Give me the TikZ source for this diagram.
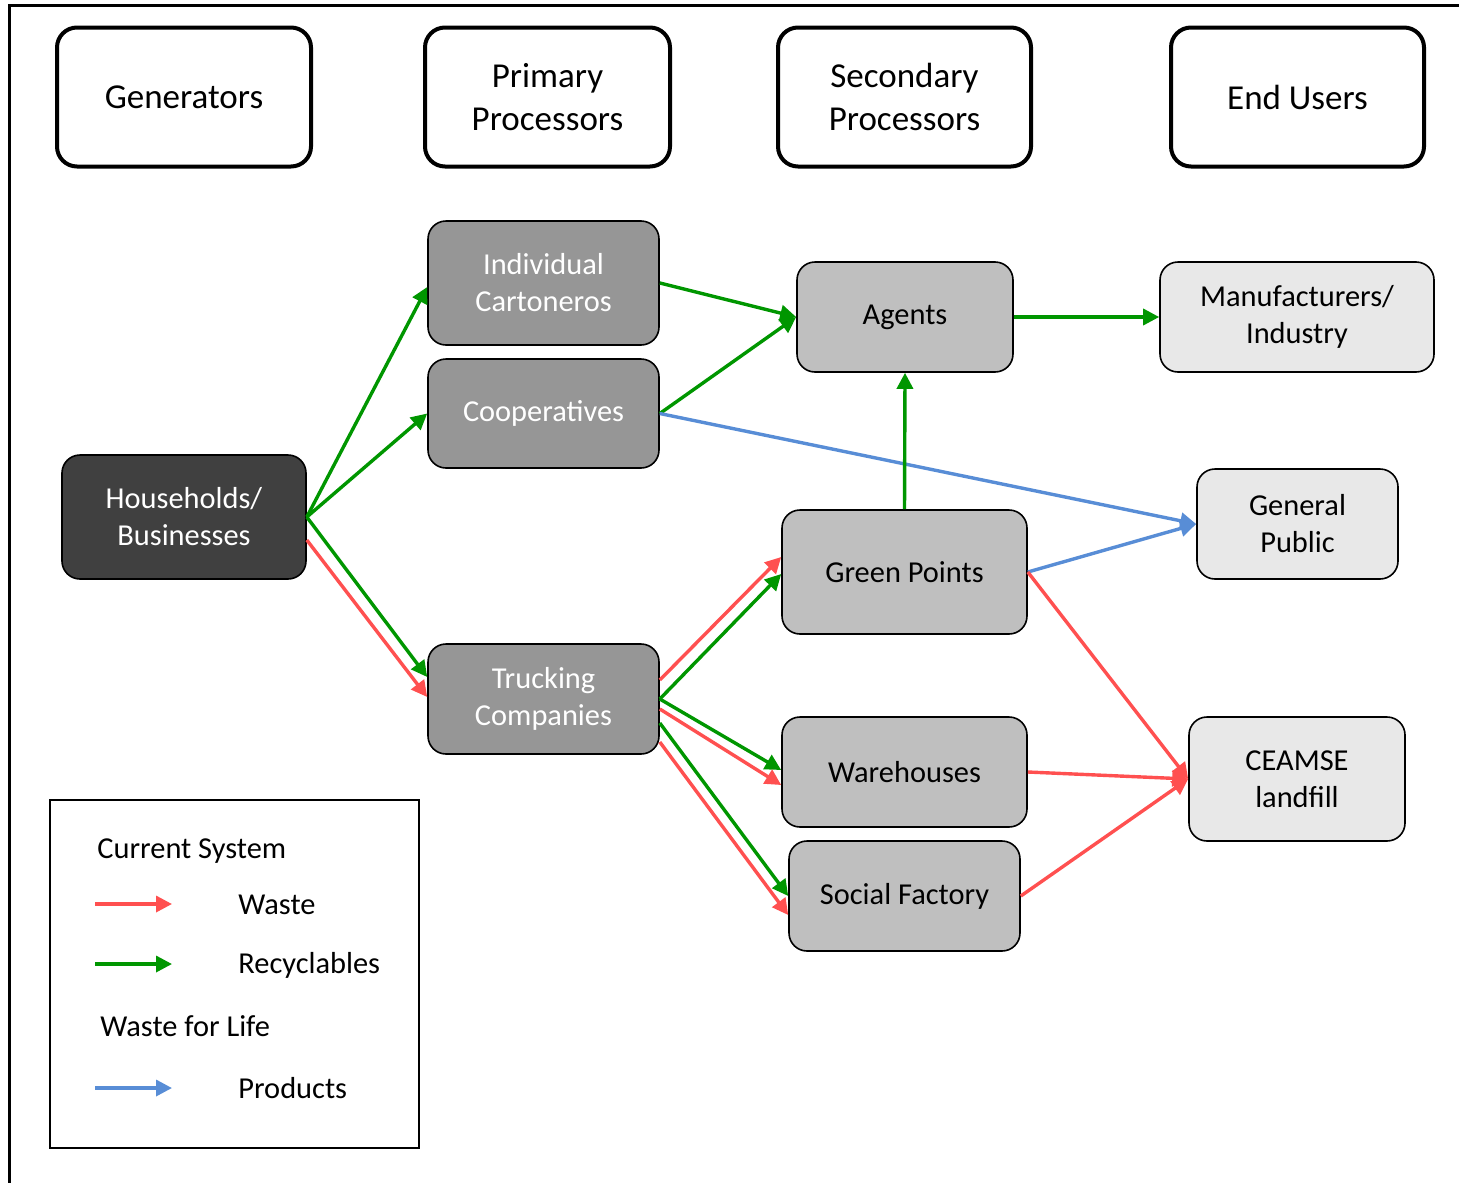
\documentclass[tikz,border=0pt]{standalone}
\usepackage{fontspec}
\setmainfont{Carlito}
\usetikzlibrary{arrows.meta}

\definecolor{wastered}{RGB}{255,80,80}
\definecolor{recgreen}{RGB}{0,150,0}
\definecolor{prodblue}{RGB}{88,141,214}
\definecolor{darkbox}{RGB}{64,64,64}
\definecolor{midbox}{RGB}{150,150,150}
\definecolor{lightbox}{RGB}{191,191,191}
\definecolor{paleBox}{RGB}{232,232,232}

\begin{document}
\begin{tikzpicture}[x=0.5pt, y=-0.5pt,
  header/.style={draw=black, line width=2pt, fill=white, rounded corners=10pt,
    align=center, inner sep=0pt, font={\fontsize{17.5}{21.5}\selectfont}},
  actor/.style={draw=black, line width=0.8pt, rounded corners=9pt, align=center,
    inner sep=0pt, font={\fontsize{15.2}{18.5}\selectfont}},
  flow/.style={line width=1.7pt, -{Triangle[length=8pt, width=8pt]}},
  waste/.style={flow, draw=wastered, fill=wastered},
  recyc/.style={flow, draw=recgreen, fill=recgreen},
  prod/.style={flow, draw=prodblue, fill=prodblue}]

\useasboundingbox (0,0) rectangle (1459,1183);

% frame
\draw[line width=1.5pt] (1459,5) -- (9,5) -- (9,1183);

% column headings
\node [header, minimum width=127pt, minimum height=69.5pt] (gen) at (184,97) {Generators};
\node [header, minimum width=122.5pt, minimum height=69.5pt] (prim) at (547.5,97) {Primary\\Processors};
\node [header, minimum width=126.5pt, minimum height=69.5pt] (sec) at (904.5,97) {Secondary\\Processors};
\node [header, minimum width=126.5pt, minimum height=69.5pt] (endu) at (1297.5,97) {End Users};

% actors
\node [actor, fill=darkbox, text=white, minimum width=122pt, minimum height=62pt] (house) at (184,517) {Households/\\Businesses};
\node [actor, fill=midbox, text=white, minimum width=115.5pt, minimum height=62pt] (indiv) at (543.5,283) {Individual\\Cartoneros};
\node [actor, fill=midbox, text=white, minimum width=115.5pt, minimum height=54.5pt] (coop) at (543.5,413.5) {Cooperatives};
\node [actor, fill=midbox, text=white, minimum width=115.5pt, minimum height=55pt] (truck) at (543.5,699) {Trucking\\Companies};
\node [actor, fill=lightbox, minimum width=108pt, minimum height=55pt] (agents) at (905,317) {Agents};
\node [actor, fill=lightbox, minimum width=122.5pt, minimum height=62pt] (greenpts) at (904.5,572) {Green Points};
\node [actor, fill=lightbox, minimum width=122.5pt, minimum height=55pt] (ware) at (904.5,772) {Warehouses};
\node [actor, fill=lightbox, minimum width=115.5pt, minimum height=55pt] (social) at (904.5,896) {Social Factory};
\node [actor, fill=paleBox, minimum width=137pt, minimum height=55pt] (manu) at (1297,317) {Manufacturers/\\Industry};
\node [actor, fill=paleBox, minimum width=100.5pt, minimum height=55pt] (public) at (1297.5,524) {General\\Public};
\node [actor, fill=paleBox, minimum width=108pt, minimum height=62pt] (ceamse) at (1297,779) {CEAMSE\\landfill};

% flows out of households
\draw[recyc] (house.east) -- ([yshift=-2pt]indiv.west);
\draw[recyc] (house.east) -- (coop.west);
\draw[recyc] (house.east) -- ([yshift=11pt]truck.west);
\draw[waste] ([yshift=-11.5pt]house.east) -- ([yshift=1pt]truck.west);

% primary to secondary
\draw[recyc] (indiv.east) -- (agents.west);
\draw[recyc] (coop.east) -- (agents.west);
\draw[prod] (coop.east) -- (public.west);
\draw[waste] ([yshift=9.5pt]truck.east) -- ([yshift=7.5pt]greenpts.west);
\draw[recyc] (truck.east) -- ([yshift=-1pt]greenpts.west);
\draw[recyc] (truck.east) -- ([yshift=1pt]ware.west);
\draw[waste] ([yshift=-5pt]truck.east) -- ([yshift=-6.5pt]ware.west);
\draw[recyc] ([yshift=-12pt]truck.east) -- (social.west);
\draw[waste] ([yshift=-21.5pt]truck.east) -- ([yshift=-9.5pt]social.west);

% secondary to end users
\draw[recyc] (greenpts.north) -- (agents.south);
\draw[recyc] (agents.east) -- (manu.west);
\draw[prod] (greenpts.east) -- (public.west);
\draw[waste] (greenpts.east) -- (ceamse.west);
\draw[waste] (ware.east) -- (ceamse.west);
\draw[waste] (social.east) -- (ceamse.west);

% legend
\node [draw=black, line width=0.8pt, minimum width=184.5pt, minimum height=174pt, inner sep=0pt] (legend) at (234.5,974) {};
\node [anchor=west, inner sep=0pt, font={\fontsize{15.2}{18}\selectfont}] (lcur) at (97,851) {Current System};
\node [anchor=west, inner sep=0pt, font={\fontsize{15.2}{18}\selectfont}] (lwaste) at (238,905) {Waste};
\node [anchor=west, inner sep=0pt, font={\fontsize{15.2}{18}\selectfont}] (lrec) at (238,965) {Recyclables};
\node [anchor=west, inner sep=0pt, font={\fontsize{15.2}{18}\selectfont}] (lwfl) at (100,1026) {Waste for Life};
\node [anchor=west, inner sep=0pt, font={\fontsize{15.2}{18}\selectfont}] (lprod) at (238,1088) {Products};
\coordinate (wa) at (95,904);  \coordinate (wb) at (172,904);
\coordinate (ra) at (95,964);  \coordinate (rb) at (172,964);
\coordinate (pa) at (95,1088); \coordinate (pb) at (172,1088);
\draw[waste] (wa) -- (wb);
\draw[recyc] (ra) -- (rb);
\draw[prod] (pa) -- (pb);

\end{tikzpicture}
\end{document}
